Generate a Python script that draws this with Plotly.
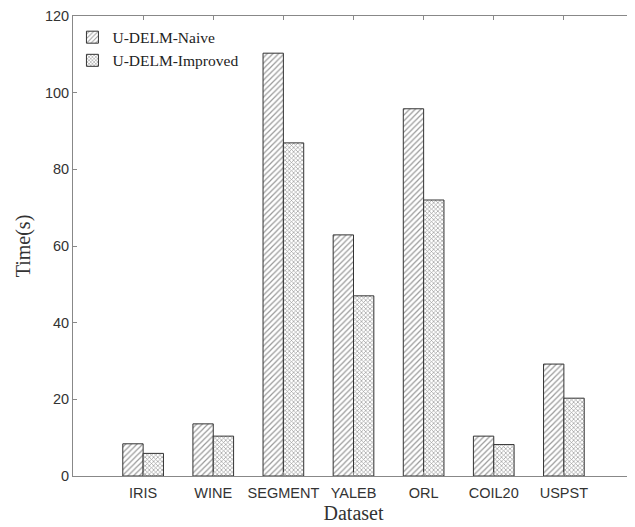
import plotly.graph_objects as go

categories = ["IRIS", "WINE", "SEGMENT", "YALEB", "ORL", "COIL20", "USPST"]
naive = [8.4, 13.6, 110.3, 62.9, 95.8, 10.4, 29.2]
improved = [5.9, 10.4, 86.9, 47.0, 72.0, 8.2, 20.3]
yticks = [0, 20, 40, 60, 80, 100, 120]

# the page body has an 8px default margin; the figure is sized/placed to compensate
fig = go.Figure()
fig.add_trace(go.Bar(
    x=categories, y=naive, name="U-DELM-Naive",
    marker=dict(color="white", line=dict(color="#333", width=1),
                pattern=dict(shape="/", fgcolor="#333", bgcolor="white", size=4, solidity=0.3)),
))
fig.add_trace(go.Bar(
    x=categories, y=improved, name="U-DELM-Improved",
    marker=dict(color="white", line=dict(color="#333", width=1),
                pattern=dict(shape="x", fgcolor="#333", bgcolor="white", size=3, solidity=0.4)),
))

fig.update_layout(
    width=627, height=519,
    margin=dict(l=65, r=1, t=8, b=51, autoexpand=False),
    paper_bgcolor="white", plot_bgcolor="white",
    barmode="group", bargap=0.42, bargroupgap=0,
    showlegend=True,
    legend=dict(x=-0.001, y=0.99, xanchor="left", yanchor="top",
                font=dict(family="Liberation Serif", size=15.5, color="#222"),
                bgcolor="rgba(0,0,0,0)", itemwidth=30, tracegroupgap=0),
    xaxis=dict(
        range=[-1, 7], showline=True, linecolor="#888", linewidth=1, mirror="ticks",
        ticks="inside", ticklen=4, tickcolor="#888", automargin=False,
        ticklabelstandoff=4,
        tickfont=dict(family="Liberation Sans", size=14.5, color="#333"),
        title=dict(text="Dataset", font=dict(family="Liberation Serif", size=20, color="#333"), standoff=5),
        showgrid=False,
    ),
    yaxis=dict(
        range=[0, 120], tickvals=yticks, showline=True, linecolor="#888", linewidth=1, mirror="ticks",
        ticks="inside", ticklen=4, tickcolor="#888", automargin=False,
        ticklabeloverflow="allow",
        tickfont=dict(family="Liberation Sans", size=14.5, color="#333"),
        title=dict(text="Time(s)", font=dict(family="Liberation Serif", size=20, color="#333"), standoff=8),
        showgrid=False, zeroline=False,
    ),
)

fig.write_html("out.html")
